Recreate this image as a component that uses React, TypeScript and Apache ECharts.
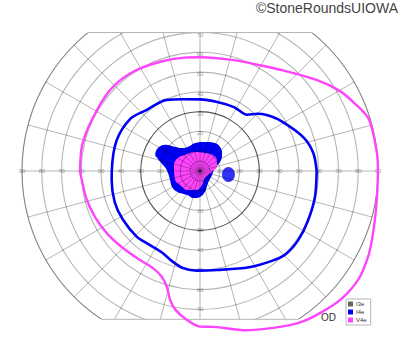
import React, { useEffect, useRef } from "react";
import * as echarts from "echarts";

// ---- data (radius in degrees of visual field, angle in degrees, 0 = right, counter-clockwise) ----
const hTicks = [10, 20, 30, 40, 50, 60, 70, 80, 90];
const vTicks = [10, 20, 30, 40, 50, 60, 70];

const v4eAngle = [0, 6, 17, 24, 30, 38, 50, 60, 73, 90, 98, 110, 124, 138, 155, 168, 180, 184, 194, 204, 214, 225, 236, 244, 250, 254, 257, 260, 265, 270, 275, 286, 295, 303, 310, 318, 326, 333, 338, 344, 352, 360];
const v4eRadius = [90, 89.9, 89.3, 85.1, 81.3, 74.8, 66.2, 61.6, 58.6, 57.5, 57.9, 58.8, 60.5, 61.2, 60.5, 61.0, 60.6, 60.0, 59.1, 57.9, 56.6, 55.1, 54.3, 54.5, 56.8, 60.9, 67.0, 71.3, 75.6, 78.7, 79.1, 83.8, 87.5, 91.6, 94.0, 96.4, 97.0, 95.4, 93.7, 91.9, 90.4, 90];

const i4eAngle = [0, 9, 18, 32, 40, 45, 50, 62, 76, 90, 103, 115, 131, 143, 160, 180, 186, 200, 212, 226, 236, 245, 253, 260, 268, 280, 297, 309, 316, 325, 335, 347, 360];
const i4eRadius = [59.0, 58.0, 55.0, 48.0, 44.0, 40.9, 37.1, 36.6, 36.0, 36.2, 37.2, 39.7, 41.0, 44.0, 44.9, 44.6, 44.9, 45.9, 46.1, 46.1, 45.2, 45.5, 47.8, 49.8, 50.4, 50.8, 54.6, 58.3, 60.4, 60.7, 60.1, 59.6, 59.0];

const i4eIslandAngle = [0, 11, 24, 36, 48, 62, 80, 100, 117, 128, 136, 143, 151, 160, 163, 167, 174, 184, 197, 210, 222, 242, 256, 270, 283, 304, 342, 360];
const i4eIslandRadius = [6.8, 7.7, 11.1, 13.8, 15.7, 16.1, 14.9, 14.4, 13.6, 14.8, 17.5, 22.0, 24.2, 24.1, 22.7, 20.7, 17.8, 16.2, 15.8, 16.3, 15.7, 13.8, 14.1, 13.1, 10.9, 7.3, 6.4, 6.8];

const v4eIslandAngle = [0, 13, 33, 51, 75, 105, 133, 149, 167, 200, 215, 238, 261, 278, 305, 355, 360];
const v4eIslandRadius = [6.3, 8.8, 10.2, 10.4, 9.4, 9.9, 11.1, 12.9, 13.5, 13.4, 12.3, 11.4, 9.7, 7.2, 4.3, 6.1, 6.3];

const i4eSpot = [[14.5, 353]];

const legendNames = ["I3e", "I4e", "V4e"];
const COLORS: Record<string, string> = { I3e: "#666666", I4e: "#0000f5", V4e: "#ff44ff" };

// ---- layout ----
const WIDTH = 400;
const HEIGHT = 352;
const CX = 200;
const CY = 171;
const R = 178;
const RMAX = 90;
const DATA_RMAX = 100;
const TOP_CLIP = 70;
const BOTTOM_CLIP = 75;
const FONT = "'Liberation Sans', Arial, Helvetica, sans-serif";

const zip = (angles: number[], radii: number[]) => angles.map((a, i) => [radii[i], a]);

const hiddenAxis = {
  axisLine: { show: false },
  axisTick: { show: false },
  axisLabel: { show: false },
  splitLine: { show: false },
};

export default function App() {
  const ref = useRef<HTMLDivElement>(null);

  useEffect(() => {
    if (!ref.current) return;
    const chart = echarts.init(ref.current, null, { renderer: "svg" });
    const pxPerDeg = R / RMAX;
    const topDy = TOP_CLIP * pxPerDeg;
    const botDy = BOTTOM_CLIP * pxPerDeg;
    const topY = CY - topDy;
    const botY = CY + botDy;
    const topHalf = Math.sqrt(R * R - topDy * topDy);
    const botHalf = Math.sqrt(R * R - botDy * botDy);

    const gridColor = "rgba(0,0,0,0.29)";
    const ringColors = Array.from({ length: 10 }, (_, i) => (i === 3 ? "rgba(0,0,0,0.68)" : gridColor));

    const tickData = [
      ...hTicks.map((t) => ({ value: [t, 0] })),
      ...hTicks.map((t) => ({ value: [t, 180] })),
      ...vTicks.map((t) => ({ value: [t, 90], label: { offset: [0, 2] } })),
      ...vTicks.map((t) => ({ value: [t, 270] })),
    ];

    const dataSeriesBase = { coordinateSystem: "polar", polarIndex: 2 };

    const option: any = {
      animation: false,
      polar: [
        { center: [CX, CY], radius: R },
        { center: [CX, CY], radius: 5 * pxPerDeg },
        { center: [CX, CY], radius: DATA_RMAX * pxPerDeg },
      ],
      angleAxis: [
        {
          polarIndex: 0,
          type: "value",
          min: 0,
          max: 360,
          interval: 15,
          startAngle: 0,
          clockwise: false,
          z: 4,
          axisLine: { show: true, lineStyle: { color: gridColor, width: 1 } },
          axisTick: { show: false },
          axisLabel: { show: false },
          splitLine: { show: true, lineStyle: { color: gridColor, width: 1 } },
        },
        {
          polarIndex: 1,
          type: "value",
          min: 0,
          max: 360,
          startAngle: 0,
          clockwise: false,
          z: 4,
          axisLine: { show: true, lineStyle: { color: gridColor, width: 1 } },
          axisTick: { show: false },
          axisLabel: { show: false },
          splitLine: { show: false },
        },
        { polarIndex: 2, type: "value", min: 0, max: 360, startAngle: 0, clockwise: false, ...hiddenAxis },
      ],
      radiusAxis: [
        {
          polarIndex: 0,
          type: "value",
          min: 0,
          max: RMAX,
          interval: 10,
          z: 4,
          axisLine: { show: false },
          axisTick: { show: false },
          axisLabel: { show: false },
          splitLine: { show: true, lineStyle: { color: ringColors, width: 1.1 } },
        },
        { polarIndex: 1, type: "value", min: 0, max: 5, ...hiddenAxis },
        { polarIndex: 2, type: "value", min: 0, max: DATA_RMAX, ...hiddenAxis },
      ],
      legend: {
        data: legendNames.map((n) => ({ name: n, icon: "rect" })),
        orient: "vertical",
        left: 346,
        top: 299,
        itemWidth: 5,
        itemHeight: 5,
        itemGap: 2,
        padding: [2, 4, 2, 2],
        borderColor: "#b5b5b5",
        borderWidth: 1,
        selectedMode: false,
        z: 10,
        textStyle: { fontSize: 6, color: "#333", fontFamily: FONT, padding: [0, 0, 0, -2] },
      },
      series: [
        {
          type: "scatter",
          name: "ticks",
          coordinateSystem: "polar",
          polarIndex: 0,
          z: 1,
          silent: true,
          symbolSize: 1,
          itemStyle: { color: "rgba(0,0,0,0)" },
          label: {
            show: true,
            position: "inside",
            formatter: (p: any) => String(p.value[0]),
            fontSize: 6,
            color: "#8a8a8a",
            fontFamily: FONT,
          },
          data: tickData,
        },
        {
          ...dataSeriesBase,
          type: "line",
          name: "I3e",
          itemStyle: { color: COLORS.I3e },
          lineStyle: { color: COLORS.I3e },
          symbol: "none",
          data: [],
        },
        {
          ...dataSeriesBase,
          type: "line",
          name: "I4e",
          z: 2,
          smooth: 0.4,
          symbol: "none",
          itemStyle: { color: COLORS.I4e },
          lineStyle: { width: 0, color: COLORS.I4e },
          areaStyle: { color: COLORS.I4e, opacity: 1 },
          data: zip(i4eIslandAngle, i4eIslandRadius),
        },
        {
          ...dataSeriesBase,
          type: "scatter",
          name: "I4e",
          z: 2,
          symbol: "circle",
          symbolSize: [13, 15],
          itemStyle: { color: COLORS.I4e },
          data: i4eSpot,
        },
        {
          ...dataSeriesBase,
          type: "line",
          name: "V4e",
          z: 3,
          smooth: 0.4,
          symbol: "none",
          itemStyle: { color: COLORS.V4e },
          lineStyle: { width: 0, color: COLORS.V4e },
          areaStyle: { color: COLORS.V4e, opacity: 1 },
          data: zip(v4eIslandAngle, v4eIslandRadius),
        },
        {
          ...dataSeriesBase,
          type: "line",
          name: "I4e",
          z: 7,
          clip: false,
          smooth: 0.3,
          symbol: "none",
          itemStyle: { color: COLORS.I4e },
          lineStyle: { width: 2.6, color: COLORS.I4e },
          data: zip(i4eAngle, i4eRadius),
        },
        {
          ...dataSeriesBase,
          type: "line",
          name: "V4e",
          z: 7,
          clip: false,
          smooth: 0.3,
          symbol: "none",
          itemStyle: { color: COLORS.V4e },
          lineStyle: { width: 2.4, color: COLORS.V4e },
          data: zip(v4eAngle, v4eRadius),
        },
      ],
      graphic: [
        { type: "rect", z: 5, silent: true, shape: { x: 0, y: 0, width: WIDTH, height: topY }, style: { fill: "#ffffff" } },
        { type: "rect", z: 5, silent: true, shape: { x: 0, y: botY, width: WIDTH, height: HEIGHT - botY }, style: { fill: "#ffffff" } },
        { type: "line", z: 6, silent: true, shape: { x1: CX - topHalf, y1: topY, x2: CX + topHalf, y2: topY }, style: { stroke: "#b5b5b5", lineWidth: 1 } },
        { type: "line", z: 6, silent: true, shape: { x1: CX - botHalf, y1: botY, x2: CX + botHalf, y2: botY }, style: { stroke: "#b5b5b5", lineWidth: 1 } },
        { type: "text", z: 10, x: 321, y: 312, style: { text: "OD", fontSize: 10, fill: "#333", fontFamily: FONT } },
        { type: "text", z: 10, x: 398, y: 1, style: { text: "©StoneRoundsUIOWA", fontSize: 14, fill: "#444", fontFamily: FONT, textAlign: "right" } },
      ],
    };

    chart.setOption(option);
    return () => chart.dispose();
  }, []);

  return <div ref={ref} style={{ position: "absolute", left: 0, top: 0, width: WIDTH, height: HEIGHT }} />;
}
